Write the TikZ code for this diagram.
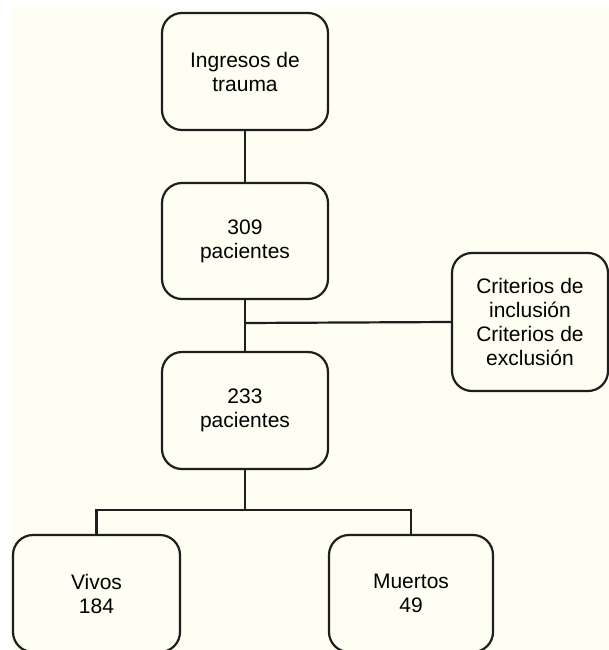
\documentclass[tikz,border=0pt]{standalone}
\usepackage{fontspec}
\setmainfont{Liberation Sans}
\definecolor{cream}{RGB}{254,254,242}
\definecolor{ink}{RGB}{30,30,30}
\begin{document}
\begin{tikzpicture}[x=1pt,y=-1pt,
  box/.style={draw=ink,line width=2.2pt,rounded corners=20pt,fill=cream,
    align=center,inner sep=0pt,font=\fontsize{21}{24}\selectfont},
  conn/.style={draw=ink,line width=2.2pt}]
\useasboundingbox (0,0) rectangle (609,650);
\fill[white] (0,0) rectangle (609,650);
\fill[cream] (11,9) rectangle (609,650);
\node[box,minimum width=166pt,minimum height=117pt] (b1) at (245,71.5) {Ingresos de\\trauma};
\node[box,minimum width=166pt,minimum height=116pt] (b2) at (245,241) {309\\pacientes};
\node[box,minimum width=166pt,minimum height=117pt] (b3) at (245,410.5) {233\\pacientes};
\node[box,minimum width=156pt,minimum height=138pt] (cr) at (530,322) {Criterios de\\inclusión\\Criterios de\\exclusión};
\node[box,minimum width=167pt,minimum height=117pt] (vi) at (96.5,593.5) {Vivos\\184};
\node[box,minimum width=164pt,minimum height=117pt] (mu) at (411,593.5) {Muertos\\49};
\coordinate (j1) at (245,323);
\coordinate (j2) at (245,510);
\draw[conn] (b1.south) -- (b2.north);
\draw[conn] (b2.south) -- (b3.north);
\draw[conn] (j1) -- (cr.west);
\draw[conn] (b3.south) -- (j2);
\draw[conn] (vi.north) |- (j2) -| (mu.north);
\end{tikzpicture}
\end{document}
